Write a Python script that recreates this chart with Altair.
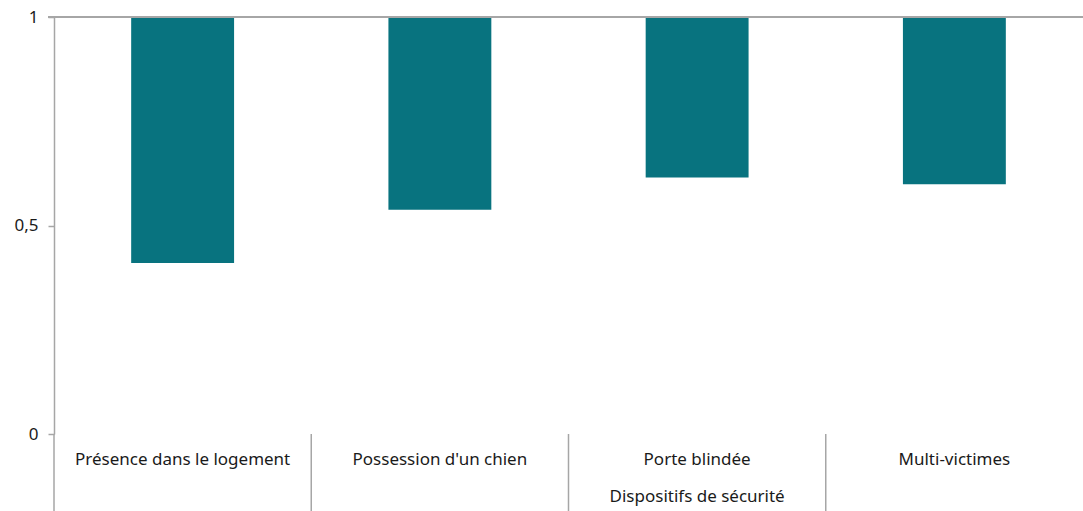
import altair as alt
import pandas as pd

categories = ["Présence dans le logement", "Possession d'un chien", "Porte blindée", "Multi-victimes"]
values = [0.41, 0.538, 0.615, 0.599]
base_value = 1
y_ticks = [0, 0.5, 1]
group_label = "Dispositifs de sécurité"
group_span = [1, 4]          # category index range covered by the group label
boundaries = [0, 1, 2, 3]    # separators between categories

W, H = 1029, 417
FONT = "Noto Sans"
GRAY = "#A6A6A6"
BAR = "#08737F"

df = pd.DataFrame({"cat": categories, "value": values, "base": [base_value] * len(values)})
bdf = pd.DataFrame({"b": boundaries})
gdf = pd.DataFrame({"label": [group_label], "pos": [sum(group_span) / 2]})

yscale = alt.Scale(domain=[0, 1])
qx = alt.Scale(domain=[0, len(categories)])

bars = alt.Chart(df).mark_bar(color=BAR).encode(
    x=alt.X("cat:N", sort=categories,
            scale=alt.Scale(domain=categories, paddingInner=0.6, paddingOuter=0.3),
            axis=alt.Axis(title=None, domain=False, ticks=False, labelAngle=0,
                          labelFont=FONT, labelFontSize=17, labelColor="#1a1a1a",
                          labelPadding=17, labelLimit=0)),
    y=alt.Y("value:Q", scale=yscale,
            axis=alt.Axis(title=None, values=y_ticks, grid=False,
                          labelExpr="replace(format(datum.value, ''), '.', ',')",
                          labelFont=FONT, labelFontSize=17, labelColor="#1a1a1a",
                          labelPadding=10, tickSize=6, tickColor=GRAY,
                          domainColor=GRAY, domainWidth=1.5, tickWidth=1.5)),
    y2="base:Q",
)

top_line = alt.Chart(df).mark_rule(color=GRAY, strokeWidth=2).encode(
    y=alt.datum(base_value, scale=yscale),
    x=alt.value(-6), x2=alt.value(W),
)

seps = alt.Chart(bdf).mark_rule(color=GRAY, strokeWidth=1.5).encode(
    x=alt.X("b:Q", scale=qx, axis=None),
    y=alt.value(H), y2=alt.value(H + 77),
)

glabel = alt.Chart(gdf).mark_text(font=FONT, fontSize=17, color="#1a1a1a", baseline="middle").encode(
    x=alt.X("pos:Q", scale=qx, axis=None),
    y=alt.value(480),
    text="label:N",
)

chart = alt.layer(bars, top_line, seps, glabel).resolve_scale(x="independent").properties(
    width=W, height=H,
    autosize=alt.AutoSizeParams(type="none"),
    padding={"left": 54, "top": 17, "right": 0, "bottom": 77},
).configure_view(stroke=None)

chart.save("out.html", embed_options={"renderer": "svg", "actions": False})
